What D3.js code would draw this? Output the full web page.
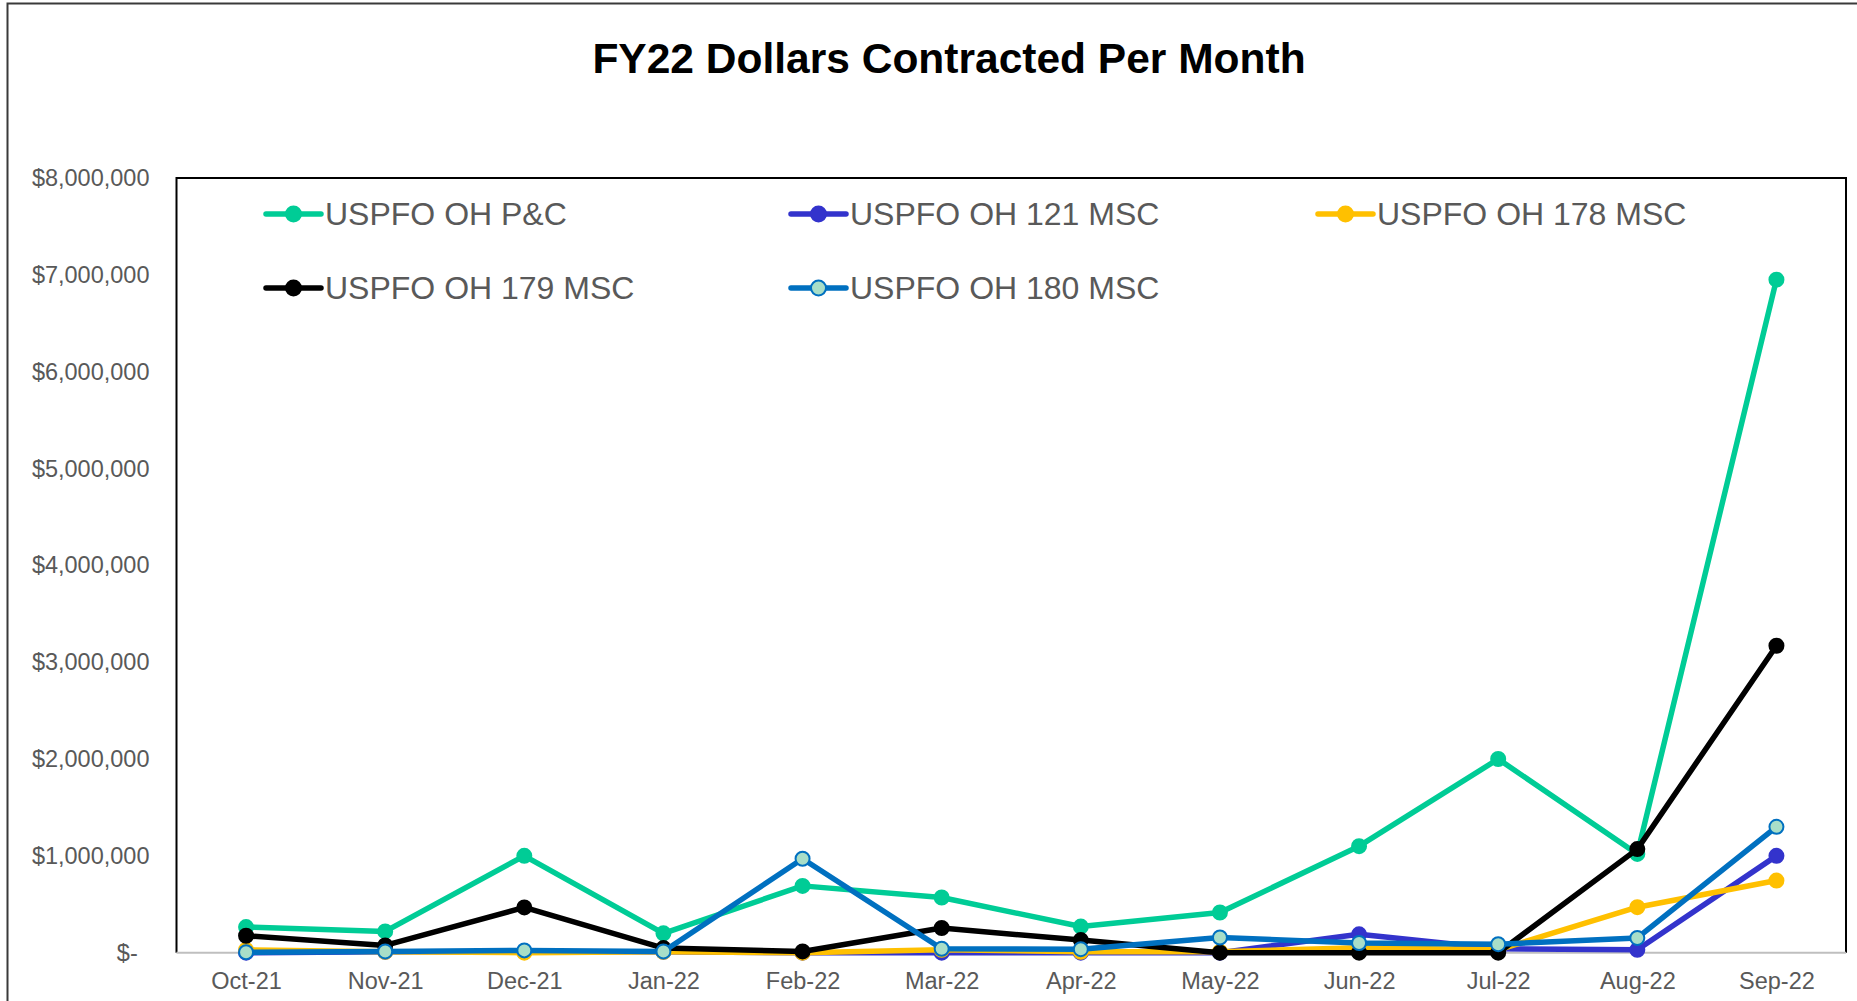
<!DOCTYPE html>
<html lang="en">
<head>
  <meta charset="UTF-8">
  <title>FY22 Dollars Contracted Per Month</title>
  <style>
    body { margin: 0; background: #fff; }
    svg { display: block; font-family: "Liberation Sans", Arial, sans-serif; }
  </style>
</head>
<body>
<script src="https://cdnjs.cloudflare.com/ajax/libs/d3/7.8.5/d3.min.js"></script>
<script>
  // data
  var months = ['Oct-21','Nov-21','Dec-21','Jan-22','Feb-22','Mar-22','Apr-22','May-22','Jun-22','Jul-22','Aug-22','Sep-22']
  var pc   = [265000, 220000, 1000000, 200000, 690000, 570000, 270000, 415000, 1100000, 2000000, 1020000, 6950000]
  var m121 = [0, 10000, 10000, 10000, 0, 0, 0, 0, 190000, 40000, 30000, 1000000]
  var m178 = [30000, 10000, 0, 10000, 0, 30000, 10000, 10000, 50000, 30000, 470000, 745000]
  var m179 = [175000, 75000, 468000, 48000, 13000, 255000, 130000, 0, 0, 0, 1070000, 3170000]
  var m180 = [5000, 13000, 24000, 13000, 970000, 41000, 36000, 157000, 100000, 88000, 153000, 1300000]
  var yTicks = [0, 1000000, 2000000, 3000000, 4000000, 5000000, 6000000, 7000000, 8000000]

  var series = [
    {name: 'USPFO OH P&C',    values: pc,   color: '#00CC96', fill: '#00CC96'},
    {name: 'USPFO OH 121 MSC', values: m121, color: '#3333CC', fill: '#3333CC'},
    {name: 'USPFO OH 178 MSC', values: m178, color: '#FFC000', fill: '#FFC000'},
    {name: 'USPFO OH 179 MSC', values: m179, color: '#000000', fill: '#000000'},
    {name: 'USPFO OH 180 MSC', values: m180, color: '#0070C0', fill: '#A8DEC8'}
  ]

  var width = 1857, height = 1001
  var plotL = 176.5, plotR = 1846, plotT = 178, plotB = 952.7

  var svg = d3.select('body').append('svg')
    .attr('width', width)
    .attr('height', height)

  // outer chart frame (right and bottom edges fall outside the picture)
  svg.append('rect')
    .attr('x', 7.5).attr('y', 3.5)
    .attr('width', 1900).attr('height', 1100)
    .attr('fill', 'none').attr('stroke', '#3a3a3a').attr('stroke-width', 2)

  svg.append('text')
    .attr('x', 949).attr('y', 73)
    .attr('text-anchor', 'middle')
    .style('font-size', '42.5px').style('font-weight', 'bold')
    .text('FY22 Dollars Contracted Per Month')

  var xScale = d3.scalePoint()
    .domain(months)
    .range([plotL, plotR])
    .padding(0.5)
  var yScale = d3.scaleLinear()
    .domain([0, 8000000])
    .range([plotB, plotT])

  // plot area border: top, left, right
  svg.append('path')
    .attr('d', `M${plotL},${plotB}V${plotT}H${plotR}V${plotB}`)
    .attr('fill', 'none').attr('stroke', '#000').attr('stroke-width', 2)

  var fmt = d3.format(',')
  var yAxis = d3.axisLeft(yScale)
    .tickValues(yTicks)
    .tickSize(0)
    .tickPadding(27)
    .tickFormat(d => d === 0 ? '$-\u2002' : '$' + fmt(d))
  var gy = svg.append('g').attr('transform', `translate(${plotL},0)`).call(yAxis)
  gy.select('.domain').remove()
  gy.selectAll('text').attr('fill', '#595959').style('font-size', '23.5px').style('font-family', '"Liberation Sans", Arial, sans-serif')

  var xAxis = d3.axisBottom(xScale).tickSize(0).tickPadding(20)
  var gx = svg.append('g').attr('transform', `translate(0,${plotB})`).call(xAxis)
  gx.select('.domain').attr('stroke', '#BFBFBF').attr('stroke-width', 2)
    .attr('d', `M${plotL},0H${plotR}`)
  gx.selectAll('text').attr('fill', '#595959').style('font-size', '23.5px').style('font-family', '"Liberation Sans", Arial, sans-serif')

  var line = d3.line()
    .x((d, i) => xScale(months[i]))
    .y(d => yScale(d))

  var g = svg.append('g')
  series.forEach(s => {
    g.append('path')
      .attr('d', line(s.values))
      .attr('fill', 'none')
      .attr('stroke', s.color)
      .attr('stroke-width', 5.5)
      .attr('stroke-linejoin', 'round')
    g.selectAll(null)
      .data(s.values)
      .enter()
      .append('circle')
      .attr('cx', (d, i) => xScale(months[i]))
      .attr('cy', d => yScale(d))
      .attr('r', 7)
      .attr('fill', s.fill)
      .attr('stroke', s.color)
      .attr('stroke-width', 2)
  })

  // legend
  var legX = [266, 791, 1318], legY = [214, 288]
  var leg = svg.append('g').selectAll('g')
    .data(series)
    .enter()
    .append('g')
    .attr('transform', (d, i) => `translate(${legX[i % 3]},${legY[Math.floor(i / 3)]})`)
  leg.append('line')
    .attr('x1', 0).attr('x2', 55)
    .attr('stroke', d => d.color).attr('stroke-width', 5.5).attr('stroke-linecap', 'round')
  leg.append('circle')
    .attr('cx', 27.5).attr('r', 7.5)
    .attr('fill', d => d.fill).attr('stroke', d => d.color).attr('stroke-width', 2)
  leg.append('text')
    .attr('x', 59).attr('y', 11)
    .attr('fill', '#595959')
    .style('font-size', '32px')
    .text(d => d.name)
</script>
</body>
</html>
